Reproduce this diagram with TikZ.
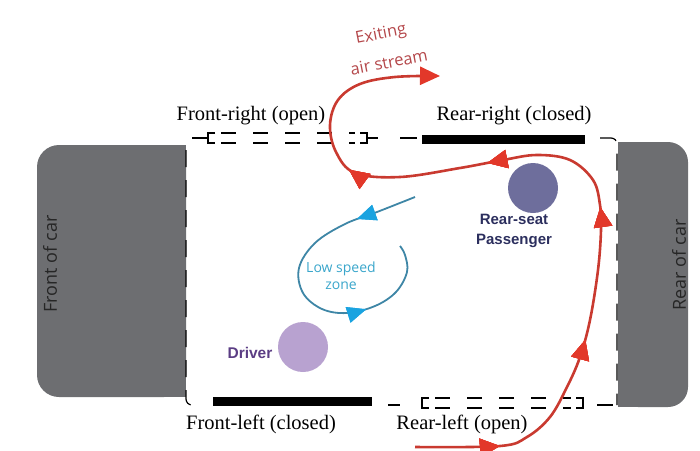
\documentclass[tikz,border=0pt]{standalone}
\usepackage{fontspec}
\setmainfont{Liberation Serif}
\setsansfont{Open Sans}
\newfontfamily\arialfont{Liberation Sans}
\usetikzlibrary{arrows.meta,decorations.markings}

\definecolor{carbody}{HTML}{6D6E71}
\definecolor{flowred}{HTML}{C93A30}
\definecolor{fliptip}{HTML}{E2382A}
\definecolor{exitred}{HTML}{B4474A}
\definecolor{zoneline}{HTML}{3E86A6}
\definecolor{zonetip}{HTML}{1AA3E0}
\definecolor{zonetext}{HTML}{3AA6CB}
\definecolor{paxdisc}{HTML}{6E6E9C}
\definecolor{paxtext}{HTML}{2C2F5E}
\definecolor{driverdisc}{HTML}{B8A2D0}
\definecolor{drivertext}{HTML}{5B3D84}

\newcommand{\openwin}[3]{%
  \draw ({#1+7},{#3-5}) -| (#1,{#3+5}) -- ({#1+7},{#3+5});
  \draw ({#2-7},{#3-5}) -| (#2,{#3+5}) -- ({#2-7},{#3+5});
  \draw[window] ({#1+13},{#3-5}) -- ({#2-12},{#3-5}) ({#1+13},{#3+5}) -- ({#2-12},{#3+5});
}

\begin{document}
\begin{tikzpicture}[x=1pt,y=-1pt,line width=1.2pt,
  window/.style={dash pattern=on 15pt off 17pt},
  outline/.style={dash pattern=on 17pt off 13pt},
  shut/.style={line width=9pt},
  doorlabel/.style={font=\fontsize{20.5}{22}\selectfont},
  carlabel/.style={rotate=90,text=black!85,font=\sffamily\fontsize{18}{20}\selectfont},
  exitlabel/.style={rotate=11,inner sep=0pt,text=exitred,font=\sffamily\fontsize{16.5}{20}\selectfont},
  tip/.style={decoration={markings,mark=at position #1 with {\arrow{Triangle[length=20pt,width=18pt,color=fliptip]}}},postaction=decorate},
  ztip/.style={decoration={markings,mark=at position #1 with {\arrow{Triangle[length=19pt,width=16pt,color=zonetip]}}},postaction=decorate},
  disc/.style={circle,inner sep=0pt,minimum size=50pt}]
\useasboundingbox (0,0) rectangle (700,450);

\fill[carbody,rounded corners=22pt] (37,145) rectangle (186,397);
\fill[carbody] (120,145) rectangle (186,397);
\fill[carbody,rounded corners=20pt] (618,142) rectangle (688,407);
\fill[carbody] (618,142) rectangle (650,407);
\node[carlabel] (front) at (50,264) {Front of car};
\node[carlabel] (rear) at (679,265) {Rear of car};

\draw[outline,rounded corners=6pt] (186,150) -- (186,405) -- (196,405);
\draw[outline,rounded corners=6pt] (600,138) -- (617,138) -- (617,405);
\draw (192,138) -- (208,138) (367,138) -- (378,138) (400,138) -- (417,138);
\draw (388,405) -- (400,405) (597,405) -- (613,405);
\openwin{208}{367}{138}
\openwin{422}{583}{403}
\draw[shut] (422,139) -- (585,139);
\draw[shut] (213,401) -- (372,401);

\node[doorlabel] (frontright) at (251,116) {Front-right (open)};
\node[doorlabel] (rearright) at (514,116) {Rear-right (closed)};
\node[doorlabel] (frontleft) at (261,424) {Front-left (closed)};
\node[doorlabel] (rearleft) at (462,424) {Rear-left (open)};

\node[disc,fill=paxdisc] (pax) at (533,188) {};
\node[disc,fill=driverdisc] (driver) at (303,347) {};
\node[align=center,text=paxtext,font=\arialfont\bfseries\fontsize{15}{20}\selectfont] (paxname) at (514,231) {Rear-seat\\Passenger};
\node[text=drivertext,font=\arialfont\bfseries\fontsize{15.5}{18}\selectfont] (drivername) at (250,353) {Driver};

\draw[zoneline,line width=1.8pt,ztip=62pt,ztip=237pt] plot[smooth,tension=0.6] coordinates
  {(415,197) (377,212) (345,224) (315,243) (299,268) (303,293) (322,309) (347,313) (375,306) (396,292) (407,272) (405,255) (400,246)};
\node[align=center,text=zonetext,font=\sffamily\fontsize{14}{17}\selectfont] (zone) at (341,276) {Low speed\\zone};

\draw[flowred,line width=2.6pt,tip=85pt,tip=230pt,tip=364pt,tip=507pt,tip=648pt,-{Triangle[length=20pt,width=18pt,color=fliptip]}]
  plot[smooth,tension=0.6] coordinates
  {(415,447) (500,446) (527,437) (550,417) (567,387) (580,357) (590,320) (598,270) (601,230) (600,205) (593,180) (570,160) (537,155) (503,160) (460,168) (400,177) (355,173) (336,152) (330,125) (338,100) (360,84) (395,77) (440,76)};
\node[exitlabel] (exit) at (381,35) {Exiting};
\node[exitlabel] (stream) at (389,62) {air stream};
\end{tikzpicture}
\end{document}
